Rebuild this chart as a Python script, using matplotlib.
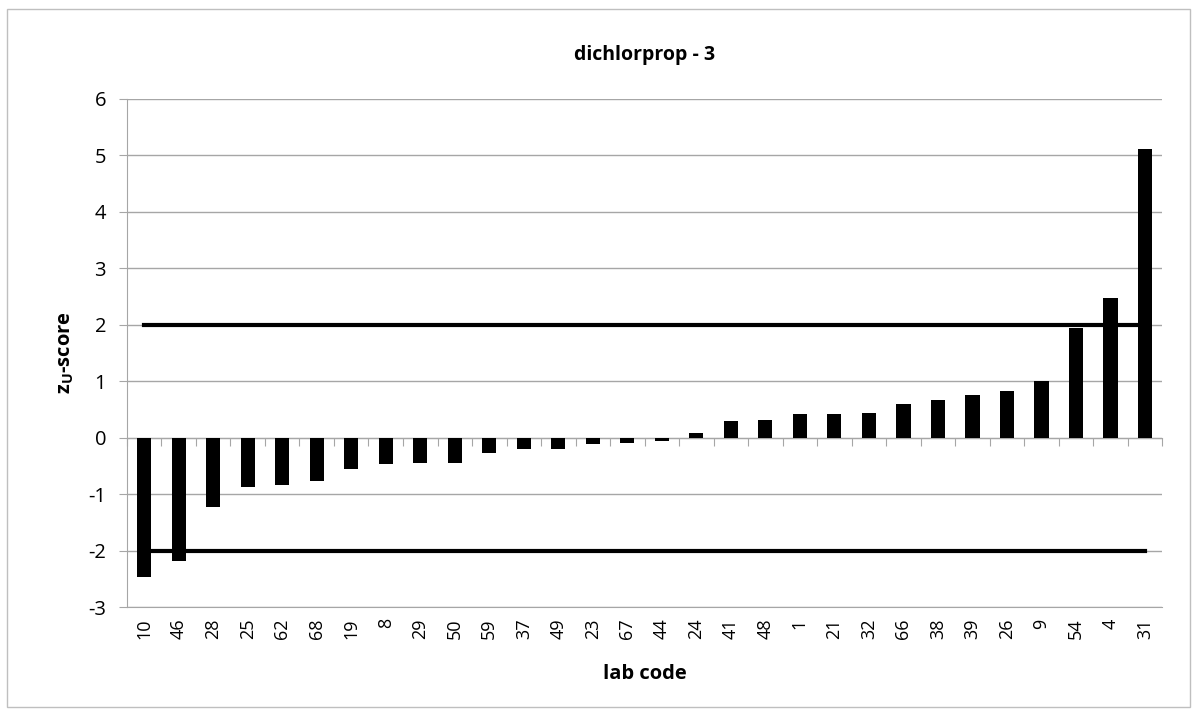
import matplotlib
matplotlib.use("Agg")
import matplotlib.pyplot as plt
from matplotlib.patches import Rectangle

plt.rcParams['font.family'] = ['Open Sans', 'DejaVu Sans']
plt.rcParams['axes.unicode_minus'] = False

labs = ['10', '46', '28', '25', '62', '68', '19', '8', '29', '50', '59', '37', '49', '23', '67',
        '44', '24', '41', '48', '1', '21', '32', '66', '38', '39', '26', '9', '54', '4', '31']
zscores = [-2.46, -2.19, -1.23, -0.87, -0.83, -0.76, -0.56, -0.46, -0.44, -0.44, -0.27, -0.2,
           -0.2, -0.12, -0.09, -0.05, 0.08, 0.3, 0.32, 0.42, 0.42, 0.43, 0.6, 0.66, 0.76, 0.83,
           1.0, 1.95, 2.48, 5.11]
upper = [2] * len(labs)
lower = [-2] * len(labs)

fig = plt.figure(figsize=(11.97, 7.16), dpi=100)
ax = fig.add_axes([0.106, 0.152, 0.865, 0.71])
fig.patches.append(Rectangle((0.006, 0.013), 0.988, 0.975, transform=fig.transFigure,
                             fill=False, edgecolor='#bfbfbf', linewidth=1))

x = list(range(len(labs)))
ax.bar(x, zscores, width=0.41, color='black', zorder=3)
ax.plot(x, upper, color='black', linewidth=3, zorder=4)
ax.plot(x, lower, color='black', linewidth=3, zorder=4)

ax.set_xlim(-0.5, len(labs) - 0.5)
ax.set_ylim(-3, 6)
ax.set_yticks(range(-3, 7))
ax.grid(axis='y', color='#a6a6a6', linewidth=1, zorder=0)
ax.tick_params(axis='y', labelsize=14.5, color='#a6a6a6', length=6, pad=9)

ax.set_xticks(x)
ax.set_xticklabels(labs, rotation=90, fontsize=13)
ax.tick_params(axis='x', length=0, pad=8)

for s in ['top', 'right']:
    ax.spines[s].set_visible(False)
ax.spines['left'].set_color('#a6a6a6')
ax.spines['bottom'].set_color('#a6a6a6')

# category axis crossing at zero
sec = ax.secondary_xaxis(1 / 3)
sec.set_xticks([i - 0.5 for i in range(len(labs) + 1)])
sec.set_xticklabels([])
sec.tick_params(axis='x', direction='out', length=6, color='#a6a6a6')
sec.spines['bottom'].set_color('#a6a6a6')

ax.set_title('dichlorprop - 3', fontsize=14, fontweight='bold', pad=28)
ax.set_xlabel('lab code', fontsize=14.5, fontweight='bold', labelpad=18)
ax.set_ylabel(r'z$_\mathregular{U}$-score', fontsize=14.5, fontweight='bold', labelpad=9)

fig.savefig('out.png', dpi=100)
